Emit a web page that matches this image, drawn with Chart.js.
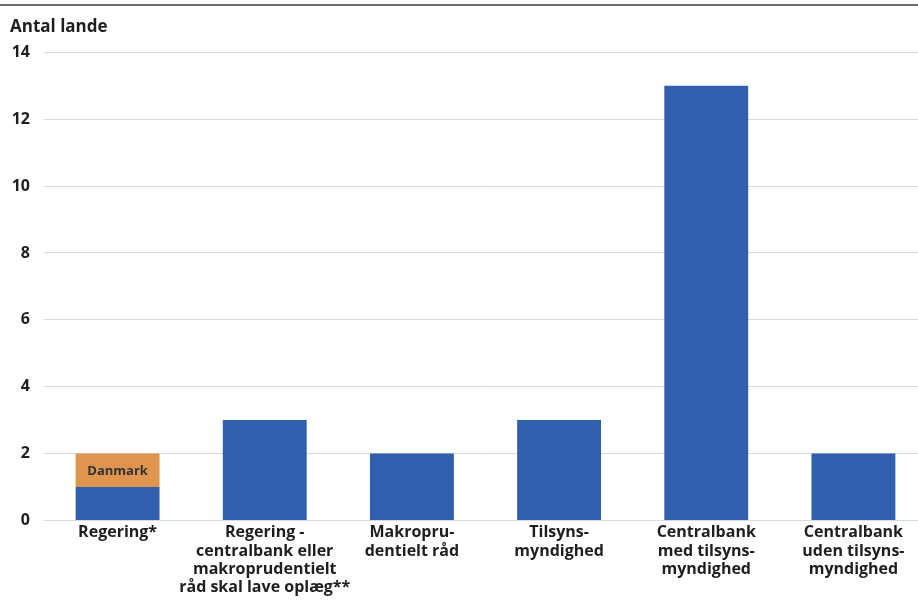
<!DOCTYPE html>
<html lang="da">
<head>
<meta charset="utf-8">
<script src="https://cdn.jsdelivr.net/npm/chart.js@4.4.1/dist/chart.umd.min.js"></script>
<style>
  html, body { margin: 0; padding: 0; background: #fff; overflow: hidden; }
  #topRule { position: absolute; left: 0; top: 4px; width: 918px; height: 2px; background: #6b6b6b; }
  #wrap { position: absolute; left: 0; top: 0; width: 927px; height: 605px; }
</style>
</head>
<body>
<div id="wrap"><canvas id="chart"></canvas></div>
<div id="topRule"></div>
<script>
// Hvem har ansvaret for makroprudentiel politik – antal lande pr. type
const categories = [
  ['Regering*'],
  ['Regering -', 'centralbank eller', 'makroprudentielt', 'råd skal lave oplæg**'],
  ['Makropru-', 'dentielt råd'],
  ['Tilsyns-', 'myndighed'],
  ['Centralbank', 'med tilsyns-', 'myndighed'],
  ['Centralbank', 'uden tilsyns-', 'myndighed']
];
const otherCountries = [1, 3, 2, 3, 13, 2];
const denmark = [1, 0, 0, 0, 0, 0];
const yTicks = [0, 2, 4, 6, 8, 10, 12, 14];

const FONT = "'Open Sans', 'DejaVu Sans', sans-serif";
const BLUE = '#2f5fad';
const ORANGE = '#df9550';

// Writes the dataset name inside its (non-zero) bar segments
const segmentLabel = {
  id: 'segmentLabel',
  afterDatasetsDraw(chart) {
    const ctx = chart.ctx;
    chart.data.datasets.forEach((ds, i) => {
      if (!ds.showName) return;
      const meta = chart.getDatasetMeta(i);
      meta.data.forEach((bar, j) => {
        if (!ds.data[j]) return;
        const p = bar.getProps(['x', 'y', 'base'], true);
        ctx.save();
        ctx.font = `bold 13px ${FONT}`;
        ctx.fillStyle = '#333333';
        ctx.textAlign = 'center';
        ctx.textBaseline = 'middle';
        ctx.fillText(ds.label, p.x, (p.y + p.base) / 2 + 1);
        ctx.restore();
      });
    });
  }
};

new Chart(document.getElementById('chart'), {
  type: 'bar',
  data: {
    labels: categories,
    datasets: [
      { label: 'Øvrige lande', data: otherCountries, backgroundColor: BLUE },
      { label: 'Danmark', data: denmark, backgroundColor: ORANGE, showName: true }
    ]
  },
  options: {
    responsive: true,
    maintainAspectRatio: false,
    animation: false,
    layout: { padding: { left: 10, right: 0, top: 0, bottom: 5 } },
    datasets: { bar: { categoryPercentage: 1, barPercentage: 0.57 } },
    plugins: {
      legend: { display: false },
      tooltip: { enabled: false },
      title: {
        display: true,
        text: 'Antal lande',
        align: 'start',
        color: '#1e1e1e',
        font: { family: FONT, size: 17, weight: 'bold', lineHeight: 1.2 },
        padding: { top: 17, bottom: 15 }
      }
    },
    scales: {
      x: {
        stacked: true,
        grid: { display: false, drawTicks: false },
        border: { display: false },
        ticks: {
          color: '#1e1e1e',
          padding: 3,
          maxRotation: 0,
          autoSkip: false,
          font: { family: FONT, size: 16, weight: 'bold', lineHeight: 1.15 }
        }
      },
      y: {
        stacked: true,
        min: 0,
        max: 14,
        afterBuildTicks(scale) { scale.ticks = yTicks.map(v => ({ value: v })); },
        afterFit(scale) { scale.width = 34; },
        border: { display: false },
        grid: {
          color: '#dadada',
          lineWidth: 1,
          drawTicks: false
        },
        ticks: {
          color: '#1e1e1e',
          padding: 14,
          font: { family: FONT, size: 16, weight: 'bold' }
        }
      }
    }
  },
  plugins: [segmentLabel]
});
</script>
</body>
</html>
